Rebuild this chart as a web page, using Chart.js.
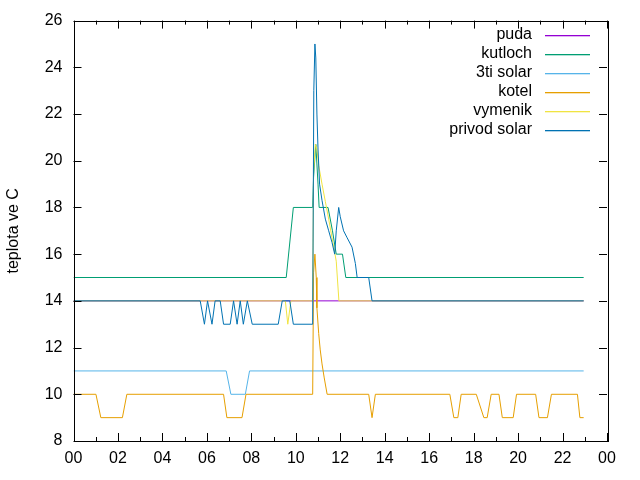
<!DOCTYPE html>
<html>
<head>
<meta charset="utf-8">
<script src="https://cdn.jsdelivr.net/npm/chart.js@4"></script>
<style>
  body { margin: 0; background: #fff; }
</style>
</head>
<body>
<canvas id="graf" width="640" height="480"></canvas>
<script>
// ===== data (cas v hodinach, teplota ve C) =====
const xPopisky = ['00', '02', '04', '06', '08', '10', '12', '14', '16', '18', '20', '22', '00'];
const yPopisky = [8, 10, 12, 14, 16, 18, 20, 22, 24, 26];

const pudaCas = [0, 22.95];
const pudaTeplota = [14, 14];

const kutlochCas = [0, 9.57, 9.89, 10.76, 10.80, 10.90, 11.00, 11.05, 11.45, 11.65, 11.82, 12.10, 12.25, 22.95];
const kutlochTeplota = [15, 15, 18, 18, 19.3, 20.7, 19, 18, 18, 17, 16, 16, 15, 15];

const solar3Cas = [0, 6.87, 7.08, 7.73, 7.92, 22.95];
const solar3Teplota = [11, 11, 10, 10, 11, 11];

const kotelCas = [0, 1.01, 1.23, 2.20, 2.40, 6.75, 6.90, 7.58, 7.76, 10.76, 10.80, 10.86, 10.92, 10.95,
  11.03, 11.10, 11.18, 11.28, 11.41, 13.28, 13.43, 13.58, 16.93, 17.11, 17.29, 17.44, 18.12, 18.46,
  18.61, 18.79, 19.14, 19.29, 19.78, 19.93, 20.79, 20.94, 21.32, 21.50, 22.67, 22.78, 22.95];
const kotelTeplota = [10, 10, 9, 9, 10, 10, 9, 9, 10, 10, 15.2, 16, 15, 13.7,
  12.6, 11.9, 11.3, 10.7, 10, 10, 9, 10, 10, 9, 9, 10, 10, 9,
  9, 10, 10, 9, 9, 10, 10, 9, 9, 10, 10, 9, 9];

const vymenikCas = [0, 9.53, 9.64, 9.78, 10.76, 10.80, 10.88, 10.95, 11.03, 11.18, 11.33, 11.48, 11.63, 11.82, 11.94, 22.95];
const vymenikTeplota = [14, 14, 13, 14, 14, 19.5, 20.7, 20.5, 19.8, 19, 18.25, 17.5, 16.7, 15.7, 14, 14];

const privodCas = [0, 5.70, 5.89, 6.03, 6.23, 6.37, 6.60, 6.75, 7.05, 7.20, 7.36, 7.50, 7.64, 7.82, 8.04,
  9.21, 9.39, 9.73, 9.89, 10.76, 10.81, 10.86, 10.90, 10.95, 11.00, 11.07, 11.18, 11.33, 11.48,
  11.63, 11.75, 11.82, 11.93, 12.00, 12.15, 12.31, 12.53, 12.68, 12.76, 13.28, 13.43, 22.95];
const privodTeplota = [14, 14, 13, 14, 13, 14, 14, 13, 13, 14, 13, 14, 13, 14, 13,
  13, 14, 14, 13, 13, 23, 25, 24.4, 22, 20.5, 19, 18.3, 17.5, 17,
  16.5, 16, 17, 18, 17.6, 17, 16.7, 16.3, 15.6, 15, 15, 14, 14];

const nazvy = ['puda', 'kutloch', '3ti solar', 'kotel', 'vymenik', 'privod solar'];
const barvy = ['#9400d3', '#009e73', '#56b4e9', '#e69f00', '#f0e442', '#0072b2'];
const casy = [pudaCas, kutlochCas, solar3Cas, kotelCas, vymenikCas, privodCas];
const teploty = [pudaTeplota, kutlochTeplota, solar3Teplota, kotelTeplota, vymenikTeplota, privodTeplota];

Chart.defaults.font.family = '"Liberation Sans", Arial, sans-serif';
Chart.defaults.font.size = 16;
Chart.defaults.color = '#000';

// ===== ramecek a carky dovnitr (jako gnuplot) =====
const ramecek = {
  id: 'ramecek',
  afterDatasetsDraw(chart) {
    const { ctx, chartArea: a, scales: { x, y } } = chart;
    ctx.save();
    ctx.strokeStyle = '#000';
    ctx.lineWidth = 1;
    ctx.beginPath();
    for (let h = 0; h <= 24; h++) {
      const px = Math.round(x.getPixelForValue(h)) + 0.5;
      const len = h % 2 === 0 ? 8 : 4;
      ctx.moveTo(px, a.bottom); ctx.lineTo(px, a.bottom - len);
      ctx.moveTo(px, a.top); ctx.lineTo(px, a.top + len);
    }
    yPopisky.forEach(v => {
      const py = Math.round(y.getPixelForValue(v)) + 0.5;
      ctx.moveTo(a.left, py); ctx.lineTo(a.left + 8, py);
      ctx.moveTo(a.right, py); ctx.lineTo(a.right - 8, py);
    });
    ctx.stroke();
    ctx.strokeRect(Math.round(a.left) + 0.5, Math.round(a.top) + 0.5,
      Math.round(a.right - a.left), Math.round(a.bottom - a.top));
    ctx.restore();
  }
};

// ===== legenda vpravo nahore =====
const legenda = {
  id: 'legenda',
  afterDraw(chart) {
    const { ctx, chartArea: a } = chart;
    ctx.save();
    ctx.font = '16px "Liberation Sans", Arial, sans-serif';
    ctx.textAlign = 'right';
    ctx.textBaseline = 'middle';
    nazvy.forEach((n, i) => {
      const ry = Math.round(a.top + 14 + i * 19);
      ctx.fillStyle = '#000';
      ctx.fillText(n, a.right - 75, ry);
      ctx.fillStyle = barvy[i];
      ctx.fillRect(a.right - 62, ry, 45, 1.3);
    });
    ctx.restore();
  }
};

const datasety = nazvy.map((n, i) => ({
  label: n,
  data: casy[i].map((c, j) => ({ x: c, y: teploty[i][j] })),
  borderColor: barvy[i],
  borderWidth: 1,
  pointRadius: 0,
  tension: 0,
  fill: false,
  order: nazvy.length - i
}));

new Chart(document.getElementById('graf'), {
  type: 'line',
  data: { datasets: datasety },
  options: {
    responsive: false,
    animation: false,
    layout: { padding: { top: 18, right: 33, left: 0, bottom: 0 } },
    plugins: { legend: { display: false }, tooltip: { enabled: false } },
    scales: {
      x: {
        type: 'linear',
        min: 0, max: 24,
        afterFit: s => { s.height = 39; },
        afterBuildTicks: s => { s.ticks = xPopisky.map((_, i) => ({ value: i * 2 })); },
        ticks: {
          padding: 8,
          maxRotation: 0,
          autoSkip: false,
          callback: (v, i) => xPopisky[i]
        },
        grid: { display: false, drawTicks: false },
        border: { display: false }
      },
      y: {
        min: 8, max: 26,
        afterFit: s => { s.width = 73.5; },
        afterBuildTicks: s => { s.ticks = yPopisky.map(v => ({ value: v })); },
        ticks: { padding: 11, autoSkip: false },
        grid: { display: false, drawTicks: false },
        border: { display: false },
        title: { display: true, text: 'teplota ve C', padding: { top: 4, bottom: 4 } }
      }
    }
  },
  plugins: [ramecek, legenda]
});
</script>
</body>
</html>
